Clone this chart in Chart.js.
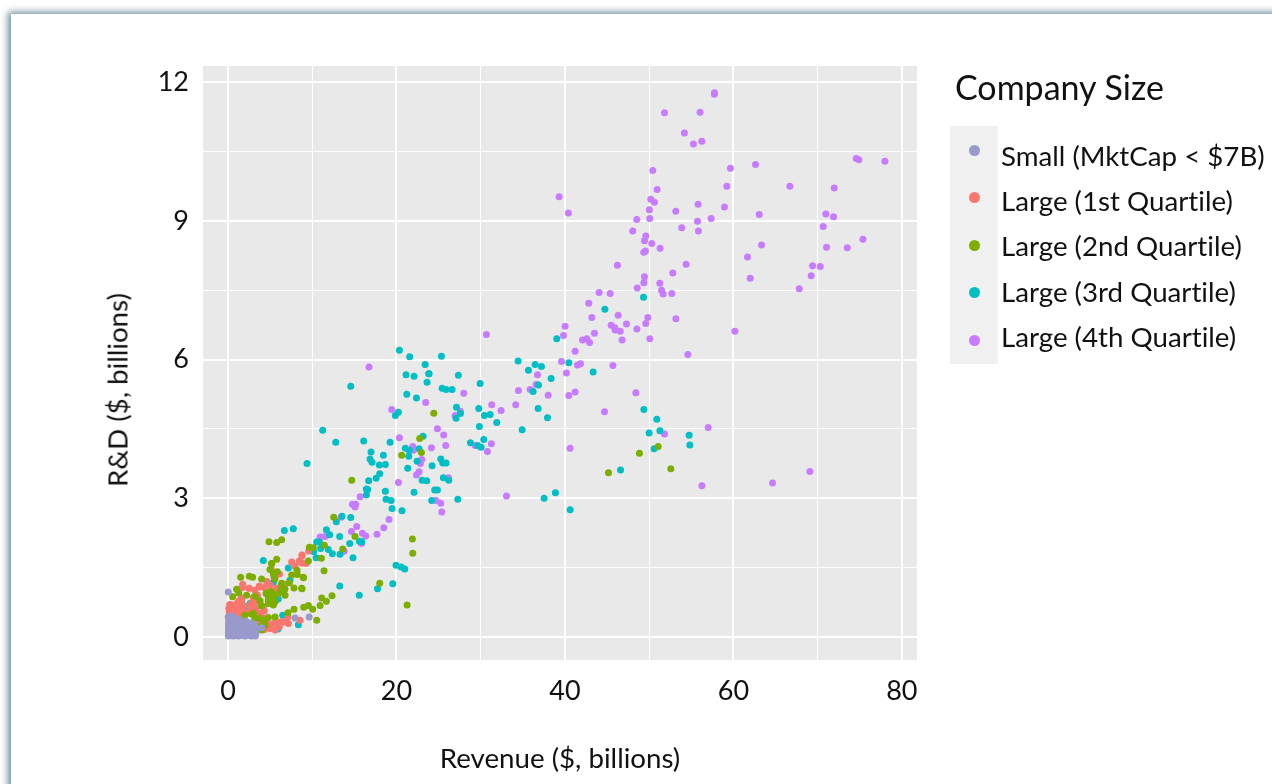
<!DOCTYPE html>
<html>
<head>
<meta charset="utf-8">
<script src="https://cdn.jsdelivr.net/npm/chart.js@4"></script>
<style>
html,body{margin:0;padding:0;width:1272px;height:784px;overflow:hidden;background:#fff;font-family:Lato,sans-serif;color:#111;font-variant-ligatures:none}
#card{position:absolute;left:11px;top:14px;width:1400px;height:900px;background:#fff;box-shadow:-3px -2px 7px rgba(70,110,130,.8)}
#c{position:absolute;left:0;top:0}
.t{position:absolute;white-space:nowrap;font-family:Lato,sans-serif}
#ytitle{left:117px;top:390px;font-size:27.7px;transform:translate(-50%,-50%) rotate(-90deg)}
#ltitle{left:955px;top:67px;font-size:34px;line-height:40px}
#lbg{position:absolute;left:950px;top:126px;width:48px;height:238px;background:#f0f0f0}
.ld{position:absolute;left:968.5px;width:11px;height:11px;border-radius:50%}
.ll{left:1001px;font-size:27.7px;line-height:32px}
</style>
</head>
<body>
<div id="card"></div>
<canvas id="c" width="1272" height="784"></canvas>
<div id="lbg"></div>
<div class="t" id="ytitle">R&amp;D ($, billions)</div>
<div class="t" id="ltitle">Company Size</div>
<div id="legend"></div>
<script>
const legendTitle = "Company Size";
const seriesNames = ["Small (MktCap < $7B)","Large (1st Quartile)","Large (2nd Quartile)","Large (3rd Quartile)","Large (4th Quartile)"];
const seriesColors = ["#9999CC","#F8766D","#7CAE00","#00BFC4","#C77CFF"];
const xTitle = "Revenue ($, billions)";
const xMajorTicks = [0,20,40,60,80];
const yMajorTicks = [0,3,6,9,12];

const small = [[0.03,0.97],[7.96,0.41],[9.64,0.43],
[0.04,0.02],[0.1,0.05],[0.05,0.1],[0.12,0.14],[0.06,0.18],[0.1,0.22],[0.05,0.27],[0.14,0.31],[0.08,0.35],[0.12,0.4],[0.2,0.45],[0.08,0.44],
[0.3,0.03],[0.35,0.08],[0.28,0.13],[0.38,0.17],[0.3,0.22],[0.4,0.26],[0.32,0.3],[0.42,0.36],[0.3,0.41],[0.5,0.44],
[0.6,0.02],[0.55,0.07],[0.65,0.12],[0.58,0.17],[0.68,0.21],[0.6,0.27],[0.7,0.31],[0.62,0.37],[0.72,0.42],
[0.9,0.03],[0.85,0.08],[0.95,0.13],[0.88,0.18],[1.0,0.23],[0.92,0.28],[1.02,0.34],[0.95,0.39],[1.2,0.38],
[1.2,0.02],[1.25,0.07],[1.18,0.12],[1.3,0.16],[1.22,0.22],[1.35,0.27],[1.25,0.32],[1.4,0.36],
[1.6,0.03],[1.55,0.09],[1.65,0.14],[1.58,0.2],[1.7,0.25],[1.6,0.31],[1.75,0.33],
[2.0,0.02],[1.95,0.08],[2.05,0.13],[1.98,0.18],[2.1,0.24],[2.02,0.3],[2.2,0.33],
[2.4,0.03],[2.35,0.08],[2.45,0.14],[2.5,0.2],[2.4,0.27],[2.62,0.3],
[2.8,0.02],[2.85,0.07],[2.75,0.12],[2.9,0.18],[2.85,0.25],[3.0,0.03],[3.25,0.02],[3.3,0.07],[3.15,0.13],[3.35,0.19],[3.1,0.28],[4.0,0.2]];

const large1 = [[1.74,1.14],[1.7,1.07],[2.49,1.05],[3.68,1.08],[3.2,1.01],[4.59,1.2],[4.59,1.12],[5.14,1.47],[8.78,1.77],[8.47,1.64],[7.95,1.53],[8.74,1.6],[9.26,1.59],[6.17,1.08],[5.78,1.05],[6.76,1.14],[1.62,0.72],[1.5,0.65],[1.02,0.67],[0.43,0.62],[0.15,0.54],[0.03,0.43],[0.43,0.43],[1.02,0.51],[1.62,0.54],[3.4,0.65],[4.31,0.56],[3.8,0.51],[7.12,0.43],[8.55,0.36],[6.37,0.33],[5.97,0.31],[5.38,0.29],[4.98,0.18],[1.62,0.11],[1.02,0.29],[2.61,0.69],[3.2,0.8],[2.53,1.05],[3.72,1.1],[7.56,1.62],[6.1,1.36],[0.24,0.58],[0.44,0.69],[1.03,0.72],[1.62,0.76],[0.24,0.47],[0.63,0.43],[1.23,0.61],[1.82,0.65],[3.8,0.72],[4.2,0.65],[7.17,0.29],[5.19,0.18],[9.58,1.86],[8.79,1.75],
[1.3,0.78],[1.65,0.84],[1.45,0.58],[0.8,0.58],[1.75,0.47],[0.1,0.62],[0.2,0.7],[2.7,0.6],[2.9,0.75],[3.5,0.9],[3.0,0.85],[4.4,1.05],[5.0,1.12],[5.4,0.98],[6.0,0.95],[6.5,1.0],[3.3,0.55],[2.2,0.52],[4.1,0.42],[4.6,0.3],[6.1,0.22],[6.7,0.32],[3.6,0.34],[4.3,0.16],[5.6,0.15]];

const large2 = [[24.43,4.84],[51.07,4.12],[48.85,3.97],[52.57,3.64],[45.17,3.55],[22.76,4.29],[20.62,3.93],[22.96,3.99],[14.69,3.39],[12.55,2.59],[15.08,2.17],[9.66,1.94],[10.13,1.93],[11.44,1.98],[13.62,1.9],[11.08,1.7],[9.54,1.64],[11.4,1.43],[21.89,2.12],[21.93,1.81],[8.95,1.28],[8.79,1.04],[18.01,1.16],[11.12,0.84],[12.35,0.89],[11.68,0.77],[10.93,0.68],[9.54,0.68],[8.99,0.64],[10.05,0.6],[21.26,0.69],[10.53,0.36],[4.86,2.06],[5.78,2.04],[6.37,2.1],[5.18,1.59],[5.78,1.68],[4.98,1.46],[8.19,1.44],[5.85,1.41],[7.56,1.34],[8.23,1.35],[8.94,1.29],[5.46,1.3],[7.28,1.17],[7.83,1.06],[8.74,1.05],[1.5,1.29],[2.53,1.31],[2.92,1.29],[3.99,1.25],[1.02,1.03],[0.55,0.87],[1.26,0.95],[2.21,0.9],[3.2,0.88],[3.8,0.78],[4.51,0.94],[4.79,0.83],[5.18,0.94],[5.58,0.9],[6.17,0.97],[6.37,1.05],[6.76,1.03],[4.79,0.72],[5.38,0.69],[3.99,0.67],[2.01,0.47],[2.8,0.49],[3.72,0.41],[4.79,0.42],[5.58,0.43],[2.53,0.22],[3.99,0.15],[4.27,0.29],[3.6,0.22],[5.09,0.98],[5.38,0.87],[6.57,1.05],[6.77,0.9],[6.37,1.16],[5.58,1.26],[5.19,1.59],[5.38,1.37],[4.79,0.76],[5.58,0.76],[7.12,0.52],[7.83,0.6],[3.0,0.51],[4.2,0.36],[2.4,0.22],[3.8,0.18],[4.4,0.25],[3.2,0.4]];

const large3 = [[49.33,7.35],[44.74,7.09],[39.03,6.45],[34.44,5.97],[36.46,5.89],[37.21,5.85],[35.67,5.77],[40.46,5.93],[43.35,5.73],[38.36,5.59],[36.86,5.45],[36.22,5.31],[36.82,4.94],[37.93,4.74],[34.92,4.48],[49.37,4.92],[50.91,4.71],[51.27,4.46],[50.0,4.41],[54.75,4.36],[54.83,4.15],[50.59,4.07],[46.6,3.61],[25.34,6.07],[23.87,5.69],[27.35,5.66],[29.93,5.48],[25.42,5.38],[25.89,5.35],[26.6,5.35],[27.12,4.97],[27.59,4.83],[27.08,4.73],[29.77,4.94],[30.44,4.79],[31.12,4.81],[31.91,4.64],[29.85,4.55],[28.78,4.2],[30.36,4.27],[29.65,4.14],[30.05,4.1],[25.26,3.85],[25.5,3.76],[25.89,3.76],[24.23,3.7],[25.57,3.44],[26.21,3.39],[24.54,3.18],[24.86,3.18],[24.19,2.95],[27.28,2.98],[37.53,3.0],[38.87,3.12],[40.62,2.75],
[20.35,6.2],[21.57,6.06],[23.4,5.89],[21.14,5.67],[22.09,5.64],[23.83,5.69],[23.63,5.51],[14.57,5.42],[21.22,5.25],[22.37,5.17],[20.23,4.86],[19.87,4.79],[11.24,4.47],[12.79,4.21],[16.11,4.24],[19.24,4.21],[23.16,4.34],[16.98,4.0],[18.45,3.93],[21.06,4.08],[21.53,4.04],[22.68,4.07],[21.46,3.91],[16.86,3.85],[17.1,3.78],[17.97,3.72],[18.68,3.73],[22.45,3.8],[21.34,3.65],[18.01,3.53],[17.58,3.43],[16.7,3.38],[23.04,3.39],[23.59,3.38],[9.38,3.75],[16.43,3.2],[16.59,3.19],[16.43,3.07],[18.68,3.15],[22.09,3.13],[18.76,2.98],[19.36,2.95],[19.48,2.78],[20.66,2.73],[13.54,2.61],[14.57,2.58],[12.86,2.49],[11.68,2.32],
[12.07,2.21],[13.26,2.17],[14.45,2.02],[15.6,2.07],[15.87,2.06],[10.53,2.05],[10.85,2.05],[11.0,1.91],[10.17,1.84],[11.91,1.89],[12.39,1.8],[13.3,1.79],[10.45,1.71],[14.84,1.71],[19.95,1.55],[20.55,1.51],[20.98,1.47],[13.26,1.1],[17.75,1.04],[19.56,1.15],[15.58,0.9],
[4.19,1.65],[6.69,2.3],[7.75,2.34],[7.16,1.49],[5.38,1.18],[5.97,0.82],[7.36,1.23],[2.61,0.72],[2.21,0.65],[6.49,0.47],[8.35,0.26],[5.93,0.17],[3.0,0.52]];

const large4 = [[57.75,11.77],[57.75,11.74],[51.82,11.34],[56.05,11.35],[54.19,10.9],[55.26,10.66],[56.25,10.72],[50.43,10.09],[59.65,10.14],[50.95,9.68],[59.22,9.75],[39.31,9.52],[40.41,9.17],[50.19,9.47],[50.63,9.4],[55.81,9.36],[58.94,9.3],[50.03,9.24],[53.16,9.21],[48.53,9.03],[50.07,9.05],[55.74,8.99],[57.36,9.05],[48.05,8.78],[53.87,8.85],[55.85,8.78],[49.6,8.67],[49.44,8.57],[50.31,8.51],[51.3,8.41],[49.56,8.35],[49.36,8.32],[46.23,8.04],[54.39,8.06],[52.81,7.87],[49.44,7.79],
[74.59,10.35],[74.9,10.32],[77.99,10.29],[62.63,10.22],[66.71,9.75],[71.97,9.71],[63.07,9.14],[70.98,9.15],[71.89,9.09],[70.67,8.88],[63.34,8.48],[71.06,8.43],[73.52,8.42],[75.38,8.6],[61.68,8.22],[69.4,8.03],[70.31,8.01],[69.24,7.81],[62.0,7.76],[67.82,7.53],[60.18,6.61],
[49.37,7.66],[51.27,7.65],[48.58,7.55],[51.47,7.5],[51.66,7.42],[52.69,7.43],[44.06,7.45],[45.37,7.43],[42.83,7.22],[46.32,6.96],[43.19,6.91],[49.84,6.91],[49.6,6.78],[53.17,6.88],[40.02,6.72],[45.49,6.74],[45.92,6.69],[45.96,6.64],[46.56,6.61],[47.31,6.77],[48.54,6.66],[43.51,6.57],[39.83,6.52],[42.08,6.42],[42.6,6.45],[42.92,6.37],[46.79,6.42],[50.08,6.45],[41.21,6.18],[54.59,6.11],[39.59,5.96],[41.49,5.88],[41.85,5.91],[45.69,5.87],[40.18,5.71],[36.74,5.67],[36.58,5.46],[35.87,5.35],[34.48,5.33],[38.01,5.23],[40.46,5.22],[41.21,5.3],[48.42,5.28],[44.7,4.87],[57.01,4.53],[51.82,4.39],[40.62,4.08],[56.26,3.27],[64.65,3.33],[69.08,3.58],
[30.68,6.54],[27.99,5.27],[31.31,5.02],[32.42,4.9],[34.16,5.02],[27.59,4.88],[26.96,4.79],[24.86,4.5],[25.61,4.37],[25.85,4.14],[24.15,4.09],[29.33,4.14],[31.27,4.18],[30.8,4.01],[26.17,3.44],[33.06,3.05],[24.7,2.95],[25.26,2.89],[25.38,2.7],
[16.74,5.84],[23.47,5.07],[19.44,4.92],[20.35,4.31],[21.93,4.12],[22.01,4.04],[23.0,3.84],[22.84,3.75],[22.68,3.57],[22.37,3.5],[20.23,3.34],[15.68,3.03],[14.77,2.87],[15.16,2.87],[15.08,2.81],[13.42,2.59],[19.12,2.54],[15.28,2.39],[18.49,2.36],[14.65,2.28],[15.95,2.24],[16.35,2.18],[17.69,2.22],[10.93,2.16],[11.52,2.17],[15.87,2.02],[13.78,1.85]];

const seriesValues = [small, large1, large2, large3, large4];
// later datasets sit beneath earlier ones; the reference stacks 2nd quartile over 1st
const drawOrder = [0, 2, 1, 3, 4];

document.getElementById('legend').innerHTML = seriesNames.map((n,i)=>{
  const dotY = 150 + i*47.5, textY = 155.5 + i*45.4;
  return `<div class="ld" style="top:${dotY-5.5}px;background:${seriesColors[i]}"></div>`+
         `<div class="t ll" style="top:${textY-16}px"></div>`;
}).join('');
document.querySelectorAll('.ll').forEach((el,i)=>{el.textContent = seriesNames[i];});

new Chart(document.getElementById('c'), {
  type: 'scatter',
  data: { datasets: drawOrder.map(i=>({
    label: seriesNames[i],
    data: seriesValues[i].map(p=>({x:p[0],y:p[1]})),
    backgroundColor: seriesColors[i],
    borderWidth: 0,
    pointRadius: 3.5,
    pointHoverRadius: 3.5
  })) },
  plugins: [{
    id: 'panel',
    beforeDraw(chart){
      const a = chart.chartArea, c = chart.ctx;
      c.save(); c.fillStyle = '#E9E9E9';
      c.fillRect(a.left, a.top, a.width, a.height);
      c.restore();
    }
  }],
  options: {
    responsive: false,
    animation: false,
    layout: { padding: { left: 0, right: 355, top: 66, bottom: 0 } },
    plugins: { legend: { display: false }, tooltip: { enabled: false } },
    scales: {
      x: {
        type: 'linear', min: -2.97, max: 81.8,
        border: { display: false },
        afterFit(s){ s.height = 124; },
        ticks: { stepSize: 10, includeBounds: false, maxRotation: 0, autoSkip: false, padding: 15, color: '#111',
          font: { family: 'Lato', size: 27 },
          callback(v){ return xMajorTicks.includes(v) ? String(v) : ''; } },
        grid: { drawTicks: false, color: '#fff',
          lineWidth(ctx){ return xMajorTicks.includes(ctx.tick && ctx.tick.value) ? 2 : 1; } },
        title: { display: true, text: xTitle, color: '#111', font: { family: 'Lato', size: 27.7 }, padding: { top: 30, bottom: 8 } }
      },
      y: {
        type: 'linear', min: -0.5, max: 12.35,
        border: { display: false },
        afterFit(s){ s.width = 203; },
        ticks: { stepSize: 1.5, includeBounds: false, autoSkip: false, padding: 14, color: '#111',
          font: { family: 'Lato', size: 27 },
          callback(v){ return yMajorTicks.includes(v) ? String(v) : ''; } },
        grid: { drawTicks: false, color: '#fff',
          lineWidth(ctx){ return yMajorTicks.includes(ctx.tick && ctx.tick.value) ? 2 : 1; } }
      }
    }
  }
});
</script>
</body>
</html>
